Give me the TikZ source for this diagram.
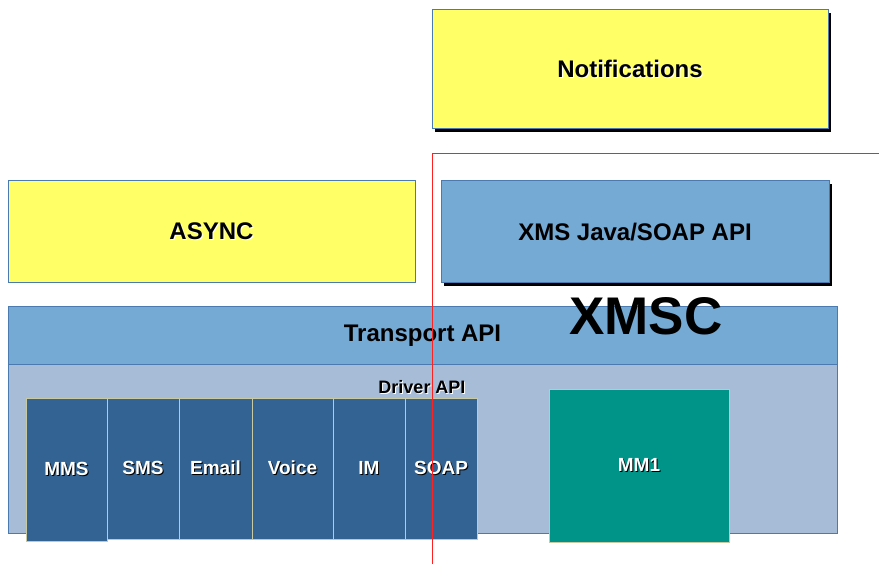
\documentclass[tikz,border=0pt]{standalone}
\usepackage{fontspec}
\setmainfont{Liberation Sans}
\usepackage{xcolor}
\usetikzlibrary{shadows, positioning}
\definecolor{amarillo}{HTML}{FFFF66}
\definecolor{azulc}{HTML}{74AAD4}
\definecolor{azulg}{HTML}{A7BCD7}
\definecolor{azulo}{HTML}{326393}
\definecolor{verdem}{HTML}{009489}
\definecolor{bordeaz}{HTML}{4A7AB0}
\definecolor{bordekh}{HTML}{C9C9A3}
\definecolor{rojol}{HTML}{FF2020}

% texto con sombra desplazada
\newcommand{\sombra}[2]{\makebox[0pt][l]{\hspace{1pt}\raisebox{-1pt}{\color{#1}#2}}#2}

\begin{document}
\begin{tikzpicture}[
    x=1pt, y=-1pt,
    caja/.style={rectangle, draw=bordeaz, line width=1pt, inner sep=0pt, font=\fontsize{24}{26}\selectfont\bfseries},
    cajaam/.style={caja, fill=amarillo},
    cajaaz/.style={caja, fill=azulc},
    sombranegra/.style={drop shadow={shadow xshift=3pt, shadow yshift=-3pt, fill=black, opacity=1}},
    driver/.style={rectangle, draw=bordekh, line width=0.8pt, fill=azulo, inner sep=0pt, outer sep=0pt, text=white, minimum height=141pt, anchor=north west, font=\fontsize{19}{21}\selectfont\bfseries},
    limite/.style={draw=rojol, line width=1pt}
]
\useasboundingbox (0,0) rectangle (879,564);

\node (notif) [cajaam, sombranegra, minimum width=396pt, minimum height=119pt] at (630,69.5) {\sombra{white}{Notifications}};

\node (async) [cajaam, minimum width=407pt, minimum height=102pt] at (211.5,232) {\sombra{white}{ASYNC}};

\node (xmsapi) [cajaaz, sombranegra, minimum width=388pt, minimum height=102pt] at (635,232) {XMS Java/SOAP API};

\node (nucleo) [caja, fill=azulg, minimum width=829pt, minimum height=226pt] at (422.5,420) {};
\node (transporte) [cajaaz, minimum width=829pt, minimum height=57pt, anchor=north] at (nucleo.north) {Transport API};

\node (drvapi) [font=\fontsize{18}{20}\selectfont\bfseries, inner sep=0pt] at (422,388) {\sombra{white}{Driver API}};

\node (mms) [driver, minimum width=81pt, minimum height=143pt] at (26,398) {\sombra{black}{MMS}};
\node (sms) [driver, minimum width=72pt] at (mms.north east) {\sombra{black}{SMS}};
\node (email) [driver, minimum width=73pt] at (sms.north east) {\sombra{black}{Email}};
\node (voice) [driver, minimum width=81pt] at (email.north east) {\sombra{black}{Voice}};
\node (im) [driver, minimum width=72pt] at (voice.north east) {\sombra{black}{IM}};
\node (soap) [driver, minimum width=72pt] at (im.north east) {\sombra{black}{SOAP}};

\node (mm1) [driver, fill=verdem, minimum width=180pt, minimum height=153pt] at (549,389) {\sombra{black}{MM1}};

\node (xmsc) [font=\fontsize{53}{55}\selectfont\bfseries, inner sep=0pt] at (646,316) {XMSC};

% frontera XMSC
\coordinate (esquina) at (432,154);
\coordinate (finabajo) at (432,564);
\coordinate (finderecha) at (879,154);
\draw [limite] (finabajo) -- (esquina) -- (finderecha);

\end{tikzpicture}
\end{document}
